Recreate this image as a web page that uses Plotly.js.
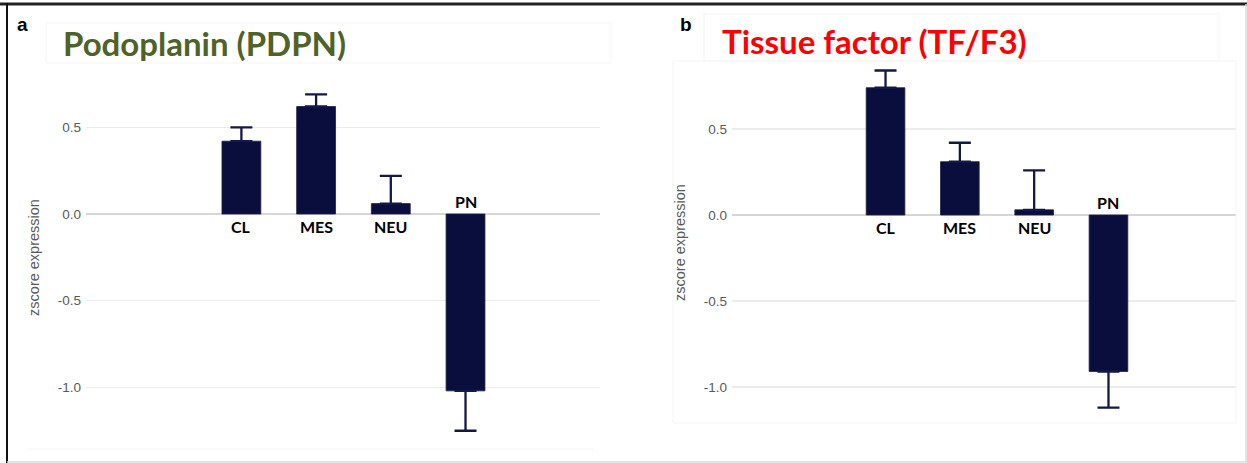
<!DOCTYPE html>
<html>
<head>
<meta charset="utf-8">
<script src="https://cdn.plot.ly/plotly-3.0.1.min.js"></script>
<style>
  html, body { margin: 0; padding: 0; background: #ffffff; }
  #chart { width: 1247px; height: 463px; }
</style>
</head>
<body>
<div id="chart"></div>
<script>
// ---- data ----
const categories = ['CL', 'MES', 'NEU', 'PN'];
const pdpnValues = [0.42, 0.62, 0.06, -1.02];
const pdpnErrors = [0.08, 0.07, 0.16, 0.23];
const tfValues = [0.74, 0.31, 0.03, -0.91];
const tfErrors = [0.10, 0.11, 0.23, 0.21];
const yTickVals = [-1.0, -0.5, 0.0, 0.5];
const yTickText = ['-1.0', '-0.5', '0.0', '0.5'];
const panelTitles = ['Podoplanin (PDPN)', 'Tissue factor (TF/F3)'];
const panelLetters = ['a', 'b'];
const yTitle = 'zscore expression';

// ---- helpers ----
const W = 1247, H = 463;
const px = v => v / W;
const py = v => 1 - v / H;
const NAVY = '#0a0e3d';

function barTrace(values, errors, xa, ya) {
  return {
    type: 'bar',
    x: categories,
    y: values,
    xaxis: xa, yaxis: ya,
    width: 0.52,
    marker: { color: NAVY, line: { color: '#1c2048', width: 0.8 } },
    error_y: {
      type: 'data', symmetric: false,
      array: values.map((v, i) => v >= 0 ? errors[i] : 0),
      arrayminus: values.map((v, i) => v < 0 ? errors[i] : 0),
      color: '#141846', thickness: 2.3, width: 11
    },
    hoverinfo: 'skip',
    showlegend: false
  };
}

const data = [
  barTrace(pdpnValues, pdpnErrors, 'x', 'y'),
  barTrace(tfValues, tfErrors, 'x2', 'y2')
];

function yAxis(domain, range, anchor) {
  return {
    domain: domain, range: range, anchor: anchor,
    tickmode: 'array', tickvals: yTickVals, ticktext: yTickText,
    tickfont: { family: 'Liberation Sans, Arial, sans-serif', size: 13.5, color: '#5a5a5a' },
    showgrid: true, gridcolor: '#ececec', gridwidth: 1.2,
    zeroline: true, zerolinecolor: '#d6d6d6', zerolinewidth: 1.6,
    showline: false, ticks: '', ticklabelstandoff: 4,
    title: { text: yTitle, font: { family: 'Liberation Sans, Arial, sans-serif', size: 14.5, color: '#5a5a5a' }, standoff: 14 },
    fixedrange: true
  };
}
function xAxis(domain, range, anchor) {
  return {
    domain: domain, range: range, anchor: anchor, type: 'category',
    showticklabels: false, showgrid: false, zeroline: false, showline: false, ticks: '',
    fixedrange: true
  };
}

const annotations = [];
const labelFont = { family: 'Lato, Carlito, sans-serif', size: 16, color: '#000000' };
[[pdpnValues, 'x', 'y'], [tfValues, 'x2', 'y2']].forEach(([vals, xa, ya]) => {
  categories.forEach((c, i) => {
    const pos = vals[i] >= 0;
    annotations.push({
      x: c, y: 0, xref: xa, yref: ya,
      text: '<b>' + c + '</b>', showarrow: false,
      yanchor: pos ? 'top' : 'bottom', xanchor: 'center',
      yshift: pos ? -1 : 1,
      font: labelFont
    });
  });
});
// panel titles and letters
annotations.push({
  xref: 'paper', yref: 'paper', x: px(61), y: py(43), xanchor: 'left', yanchor: 'middle',
  text: '<b>' + panelTitles[0] + '</b>', showarrow: false,
  font: { family: 'Lato, Carlito, sans-serif', size: 33, color: '#4f6228' }
});
annotations.push({
  xref: 'paper', yref: 'paper', x: px(720), y: py(41), xanchor: 'left', yanchor: 'middle',
  text: '<b>' + panelTitles[1] + '</b>', showarrow: false,
  font: { family: 'Lato, Carlito, sans-serif', size: 33, color: '#ff0000' }
});
annotations.push({
  xref: 'paper', yref: 'paper', x: px(15), y: py(25), xanchor: 'left', yanchor: 'middle',
  text: '<b>' + panelLetters[0] + '</b>', showarrow: false,
  font: { family: 'Liberation Sans, Arial, sans-serif', size: 19, color: '#000000' }
});
annotations.push({
  xref: 'paper', yref: 'paper', x: px(678), y: py(25), xanchor: 'left', yanchor: 'middle',
  text: '<b>' + panelLetters[1] + '</b>', showarrow: false,
  font: { family: 'Liberation Sans, Arial, sans-serif', size: 19, color: '#000000' }
});

const faint = { color: '#f5f5f5', width: 1 };
const shapes = [
  // faint panel boxes
  { type: 'rect', xref: 'paper', yref: 'paper', x0: px(46), x1: px(611), y0: py(63), y1: py(23), line: faint },
  { type: 'rect', xref: 'paper', yref: 'paper', x0: px(704), x1: px(1219), y0: py(61), y1: py(14), line: faint },
  { type: 'rect', xref: 'paper', yref: 'paper', x0: px(673), x1: px(1236), y0: py(423), y1: py(61), line: faint },
  { type: 'line', xref: 'paper', yref: 'paper', x0: px(28), x1: px(593), y0: py(449), y1: py(449), line: faint },
  // outer frame
  { type: 'line', xref: 'paper', yref: 'paper', x0: 0, x1: 1, y0: py(4), y1: py(4), line: { color: '#222222', width: 3 } },
  { type: 'line', xref: 'paper', yref: 'paper', x0: px(7), x1: px(7), y0: 0, y1: py(3), line: { color: '#111111', width: 2 } },
  { type: 'line', xref: 'paper', yref: 'paper', x0: px(1246), x1: px(1246), y0: 0, y1: py(4), line: { color: '#dddddd', width: 1.5 } },
  { type: 'line', xref: 'paper', yref: 'paper', x0: px(7), x1: 1, y0: py(462), y1: py(462), line: { color: '#dddddd', width: 1.5 } }
];

const layout = {
  width: W, height: H,
  margin: { l: 0, r: 0, t: 0, b: 0 },
  paper_bgcolor: '#ffffff', plot_bgcolor: 'rgba(0,0,0,0)',
  showlegend: false,
  xaxis: xAxis([px(86), px(600)], [-2.08, 4.80], 'y'),
  yaxis: yAxis([py(445), py(70)], [-(445 - 214) / 173.4, (214 - 70) / 173.4], 'x'),
  xaxis2: xAxis([px(732), px(1236)], [-2.066, 4.716], 'y2'),
  yaxis2: yAxis([py(423), py(62)], [-(423 - 215) / 172, (215 - 62) / 172], 'x2'),
  annotations: annotations,
  shapes: shapes
};

Plotly.newPlot('chart', data, layout, { displayModeBar: false, staticPlot: true });
</script>
</body>
</html>
